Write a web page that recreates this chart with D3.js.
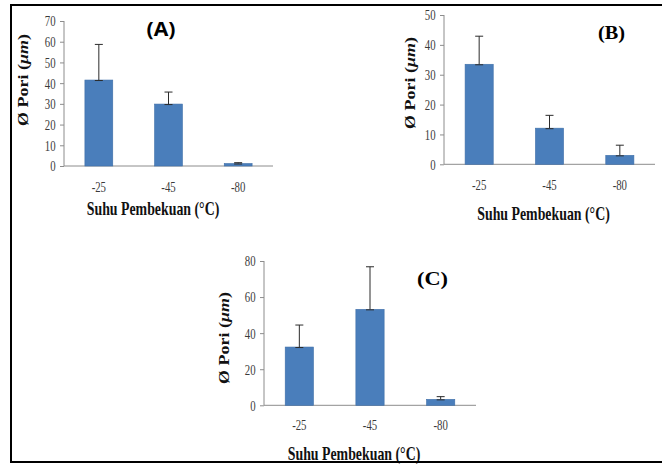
<!DOCTYPE html>
<html><head><meta charset="utf-8">
<script src="https://cdn.jsdelivr.net/npm/d3@7"></script>
<style>
html,body{margin:0;padding:0;background:#fff;}
svg{display:block;}
</style>
</head><body>
<svg id="chart" width="662" height="468"></svg>
<script>
// ---- data ----
const categories = ["-25", "-45", "-80"];
const valuesA = [41.5, 29.9, 1.2];
const errorsA = [17.2, 5.8, 0.4];
const valuesB = [33.5, 12.1, 3.0];
const errorsB = [9.4, 4.3, 3.4];
const valuesC = [32.3, 53.2, 3.3];
const errorsC = [12.2, 23.6, 1.5];
const ticksA = [0, 10, 20, 30, 40, 50, 60, 70];
const ticksB = [0, 10, 20, 30, 40, 50];
const ticksC = [0, 20, 40, 60, 80];
const yTitle = "Ø Pori (";
const yTitleUnit = "μm";
const xTitle = "Suhu Pembekuan (°C)";
const panelLabels = ["(A)", "(B)", "(C)"];

// ---- layout ----
const SX = 0.77; // horizontal squeeze of the original figure's text
const panels = [
  {vals: valuesA, errs: errorsA, ticks: ticksA, label: panelLabels[0],
   x0: 64, x1: 273, yTop: 21, yBot: 166, xtY: 192, ytitleX: 28, ytitleY: 80,
   xtitleX: 153, xtitleY: 215, labX: 161, labY: 36, labFont: "'Open Sans', 'Liberation Sans', sans-serif", labLen: 29},
  {vals: valuesB, errs: errorsB, ticks: ticksB, label: panelLabels[1],
   x0: 444, x1: 655, yTop: 15, yBot: 164.3, xtY: 190, ytitleX: 415, ytitleY: 83,
   xtitleX: 543.5, xtitleY: 220, labX: 611.5, labY: 39, labFont: "'Liberation Serif', 'Times New Roman', serif", labLen: 27},
  {vals: valuesC, errs: errorsC, ticks: ticksC, label: panelLabels[2],
   x0: 264, x1: 476, yTop: 261, yBot: 405.3, xtY: 430, ytitleX: 229, ytitleY: 338,
   xtitleX: 354, xtitleY: 460, labX: 432.5, labY: 285, labFont: "'Liberation Serif', 'Times New Roman', serif", labLen: 31}
];

const svg = d3.select("#chart");
svg.append("rect").attr("x", 0).attr("y", 0).attr("width", 662).attr("height", 468).attr("fill", "#fff");

const serif = "'Liberation Serif', 'Times New Roman', serif";

panels.forEach(p => {
  const g = svg.append("g");
  const x = d3.scaleBand().domain(categories).range([p.x0, p.x1]).paddingInner(0.6).paddingOuter(0.3);
  const y = d3.scaleLinear().domain([0, d3.max(p.ticks)]).range([p.yBot, p.yTop]);

  // y axis
  const ya = g.append("g").attr("transform", `translate(${p.x0},0)`)
    .call(d3.axisLeft(y).tickValues(p.ticks).tickSize(4).tickPadding(7).tickFormat(d3.format("d")));
  ya.select(".domain").attr("stroke", "#8c8c8c").attr("d", `M0,${p.yTop}V${p.yBot}`);
  ya.selectAll(".tick line").attr("stroke", "#8c8c8c");
  ya.selectAll(".tick text")
    .attr("font-family", serif).attr("font-size", 14).attr("fill", "#3a3a3a")
    .attr("transform", `scale(${SX},1)`).attr("dy", "0.35em");

  // x axis
  const xa = g.append("g").attr("transform", `translate(0,${p.yBot})`)
    .call(d3.axisBottom(x).tickSize(0).tickPadding(0));
  xa.select(".domain").attr("stroke", "#8c8c8c").attr("d", `M${p.x0},0H${p.x1}`);
  xa.selectAll(".tick text")
    .attr("font-family", serif).attr("font-size", 14).attr("fill", "#3a3a3a")
    .attr("y", p.xtY - p.yBot).attr("dy", 0)
    .attr("transform", `scale(${SX},1)`);

  // bars
  const data = categories.map((c, i) => ({c, v: p.vals[i], e: p.errs[i]}));
  g.selectAll("rect.bar").data(data).enter().append("rect")
    .attr("class", "bar")
    .attr("x", d => x(d.c)).attr("width", x.bandwidth())
    .attr("y", d => y(d.v)).attr("height", d => y(0) - y(d.v))
    .attr("fill", "#4a7ebb").attr("stroke", "#3f6fa8").attr("stroke-width", 0.6);

  // error bars (plus direction)
  const cap = 4;
  const eb = g.selectAll("g.err").data(data).enter().append("g").attr("class", "err")
    .attr("stroke", "#2b2b2b").attr("stroke-width", 1);
  eb.append("line")
    .attr("x1", d => x(d.c) + x.bandwidth() / 2).attr("x2", d => x(d.c) + x.bandwidth() / 2)
    .attr("y1", d => y(d.v)).attr("y2", d => y(d.v + d.e));
  eb.append("line")
    .attr("x1", d => x(d.c) + x.bandwidth() / 2 - cap).attr("x2", d => x(d.c) + x.bandwidth() / 2 + cap)
    .attr("y1", d => y(d.v + d.e)).attr("y2", d => y(d.v + d.e));
  eb.append("line")
    .attr("x1", d => x(d.c) + x.bandwidth() / 2 - cap).attr("x2", d => x(d.c) + x.bandwidth() / 2 + cap)
    .attr("y1", d => y(d.v) + 0.5).attr("y2", d => y(d.v) + 0.5);

  // y title (rotated)
  const yt = g.append("text")
    .attr("transform", `translate(${p.ytitleX},${p.ytitleY}) scale(${SX},1) rotate(-90)`)
    .attr("text-anchor", "middle")
    .attr("font-family", serif).attr("font-weight", "bold").attr("font-size", 18).attr("fill", "#111");
  yt.append("tspan").text(yTitle);
  yt.append("tspan").attr("font-style", "italic").text(yTitleUnit);
  yt.append("tspan").text(")");

  // x title
  g.append("text")
    .attr("transform", `translate(${p.xtitleX},${p.xtitleY}) scale(${SX},1)`)
    .attr("text-anchor", "middle")
    .attr("font-family", serif).attr("font-weight", "bold").attr("font-size", 18).attr("fill", "#111")
    .text(xTitle);

  // panel label
  g.append("text")
    .attr("x", p.labX - p.labLen / 2).attr("y", p.labY)
    .attr("font-family", p.labFont).attr("font-weight", "bold").attr("font-size", 19).attr("fill", "#000")
    .attr("textLength", p.labLen).attr("lengthAdjust", "spacingAndGlyphs")
    .text(p.label);
});

// outer frame
svg.append("rect").attr("x", 11).attr("y", 5).attr("width", 660).attr("height", 457)
  .attr("fill", "none").attr("stroke", "#000").attr("stroke-width", 2);
</script>
</body></html>
